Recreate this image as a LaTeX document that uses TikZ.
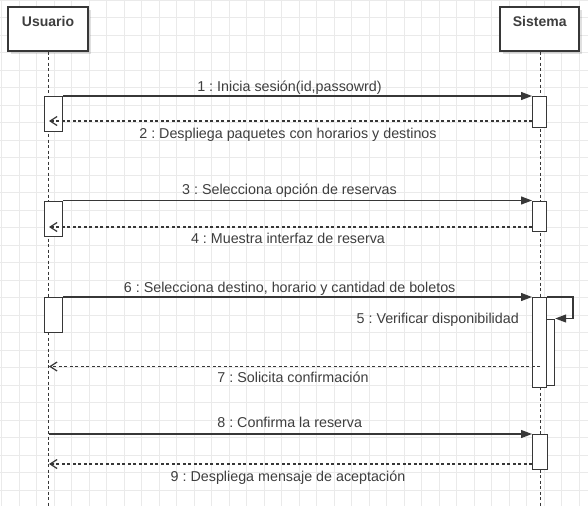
\documentclass[tikz,border=0pt]{standalone}
\usepackage{fontspec}
\setmainfont{Liberation Sans}
\usetikzlibrary{arrows.meta,shadows}
\frenchspacing
\definecolor{gridc}{RGB}{234,234,234}
\definecolor{ink}{RGB}{55,55,55}
\definecolor{txt}{RGB}{62,62,62}
\tikzset{
  headbox/.style={draw=ink, line width=1.2pt, fill=white, inner sep=0pt,
    drop shadow={shadow xshift=3pt, shadow yshift=-3pt, fill=black, opacity=0.12}},
  headtxt/.style={font=\bfseries\fontsize{14}{16}\selectfont, text=txt, anchor=base, inner sep=0pt},
  lifeline/.style={draw=ink, line width=1.2pt, dash pattern=on 3pt off 2.5pt},
  actbox/.style={draw=ink, line width=1.2pt, fill=white, inner sep=0pt, anchor=north west},
  msg/.style={draw=ink, line width=1.2pt, -{Triangle[length=11pt,width=8pt]}},
  retmsg/.style={draw=ink, line width=1.2pt, dash pattern=on 3pt off 2.5pt, -{Straight Barb[length=7pt,width=9pt]}},
  lbl/.style={font=\fontsize{14.3}{17}\selectfont, text=txt, anchor=base, inner sep=0pt}
}
\begin{document}
\begin{tikzpicture}[x=1pt,y=-1pt]
\useasboundingbox (0,0) rectangle (588,506);
\fill[white] (0,0) rectangle (588,506);
\foreach \i in {0,...,33} \draw[gridc, line width=0.9pt] (1.7+17.5*\i,0) -- (1.7+17.5*\i,506);
\foreach \j in {0,...,28} \draw[gridc, line width=0.9pt] (0,17.5*\j) -- (588,17.5*\j);

% headers
\node[headbox, minimum width=80pt, minimum height=44pt] (uh) at (48,29) {};
\node[headbox, minimum width=79pt, minimum height=44pt] (sh) at (539.5,29) {};
\node[headtxt] (uht) at (48,26) {Usuario};
\node[headtxt] (sht) at (539.7,26) {Sistema};

% lifelines
\coordinate (uend) at (48.5,506);
\coordinate (send) at (540.5,506);
\draw[lifeline] (uh.south -| uend) -- (uend);
\draw[lifeline] (sh.south -| send) -- (send);

% activations Usuario
\node[actbox, minimum width=18.5pt, minimum height=34.5pt] (ua1) at (43.5,96) {};
\node[actbox, minimum width=18.5pt, minimum height=35.5pt] (ua2) at (43.5,200.5) {};
\node[actbox, minimum width=18.5pt, minimum height=35pt] (ua3) at (43.5,297) {};
% activations Sistema
\node[actbox, minimum width=14pt, minimum height=30.5pt] (sa1) at (532,96) {};
\node[actbox, minimum width=14pt, minimum height=30.5pt] (sa2) at (532,200.5) {};
\node[actbox, minimum width=14pt, minimum height=90pt] (sa3) at (532,297) {};
\node[actbox, minimum width=8pt, minimum height=66pt] (sa3b) at (546,318.5) {};
\node[actbox, minimum width=14.5pt, minimum height=35pt] (sa4) at (532,434) {};

% return end points
\coordinate (r2s) at (532,121);   \coordinate (r2u) at (49,121);
\coordinate (r4s) at (532,227);   \coordinate (r4u) at (49,227);
\coordinate (r7s) at (540,366.5); \coordinate (r7u) at (49,366.5);
\coordinate (m8u) at (48.5,434);
\coordinate (r9s) at (532,464);   \coordinate (r9u) at (49,464);
\coordinate (loop) at (573,297);

% messages
\draw[msg] (ua1.north east) -- (sa1.north west);
\draw[retmsg] (r2s) -- (r2u);
\draw[msg] (ua2.north east) -- (sa2.north west);
\draw[retmsg] (r4s) -- (r4u);
\draw[msg] (ua3.north east) -- (sa3.north west);
\draw[msg] (sa3.north east) -- (loop) |- (sa3b.north east);
\draw[retmsg] (r7s) -- (r7u);
\draw[msg] (m8u) -- (sa4.north west);
\draw[retmsg] (r9s) -- (r9u);

% labels
\node[lbl] (l1) at (289.5,91) {1 : Inicia sesión(id,passowrd)};
\node[lbl] (l2) at (288,138) {2 : Despliega paquetes con horarios y destinos};
\node[lbl] (l3) at (289.5,194) {3 : Selecciona opción de reservas};
\node[lbl] (l4) at (288,243) {4 : Muestra interfaz de reserva};
\node[lbl] (l6) at (289.7,292) {6 : Selecciona destino, horario y cantidad de boletos};
\node[lbl, anchor=base east] (l5) at (519,323) {5 : Verificar disponibilidad};
\node[lbl] (l7) at (293,382) {7 : Solicita confirmación};
\node[lbl] (l8) at (289.7,427) {8 : Confirma la reserva};
\node[lbl] (l9) at (288,481) {9 : Despliega mensaje de aceptación};
\end{tikzpicture}
\end{document}
